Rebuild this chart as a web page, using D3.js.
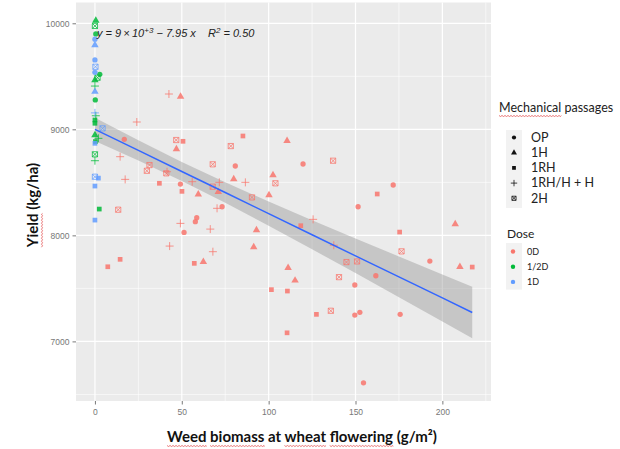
<!DOCTYPE html>
<html>
<head>
<meta charset="utf-8">
<script src="https://cdn.jsdelivr.net/npm/d3@7"></script>
<style>
  body { margin: 0; background: #fff; }
  svg { display: block; }
</style>
</head>
<body>
<div id="chart"></div>
<script>
// Levels
const passageLevels = ['OP', '1H', '1RH', '1RH/H + H', '2H'];
const doseLevels = ['0D', '1/2D', '1D'];

// Dose 0D
const d0Biomass = [16.9, 14.5, 17.4, 13.4, 7.4, 14.5, 42.6, 49.3, 24.1, 46.8, 50.7, 46.9, 67.8, 31.4, 29.9, 41.1, 41.5, 37.1, 49.2, 56,
  67.8, 50.1, 59.5, 70.3, 49.2, 58.6, 57.8, 66.4, 51.3, 43, 67.9, 57.2, 62.4, 85.2, 110.6, 78.2, 80.8, 119.8, 137.1, 79.9,
  86.6, 102.5, 103.9, 71.6, 71, 90.4, 100.2, 73.2, 125.6, 118.5, 93, 91.4, 137.5, 111.2, 115.2, 101.6, 110.8, 127.5, 135.8, 110.6,
  140.5, 171.7, 162.5, 151.5, 207.4, 175.4, 176.5, 192.8, 210.1, 217.2, 144.8, 150.9, 161.7, 149.6, 149.6, 152.5, 175.7, 154.6];
const d0Yield = [8906, 8742, 8528, 8242, 7704, 7774, 9333, 9308, 9069, 8899, 8887, 8814, 8670, 8663, 8609, 8585, 8600, 8491, 8484, 8506,
  8459, 8415, 8387, 8255, 8113, 8166, 8129, 8059, 8028, 7899, 7846, 7736, 7751, 8937, 8892, 8842, 8654, 8673, 8704, 8531,
  8500, 8569, 8491, 8500, 8410, 8358, 8380, 8270, 8151, 8091, 8050, 7890, 7907, 7694, 7575, 7488, 7475, 7255, 7289, 7081,
  7606, 8475, 8390, 8270, 8107, 8031, 7849, 7758, 7704, 7701, 7748, 7754, 7619, 7532, 7248, 7274, 7255, 6609];
const d0Passage = ['OP', '1RH/H + H', '1RH/H + H', '2H', '1RH', '1RH', '1RH/H + H', '1H', '1RH/H + H', '2H', '1RH', '1H', '2H', '2H', '2H', '2H', '1RH/H + H', '1RH', 'OP', '1RH/H + H',
  '2H', '1RH', '1H', '1RH/H + H', '1RH/H + H', 'OP', 'OP', '1RH/H + H', 'OP', '1RH/H + H', '1RH/H + H', '1RH', '1H', '1RH', '1H', '2H', 'OP', 'OP', '2H', '1H',
  '1RH/H + H', '1H', '2H', '1RH/H + H', '1H', '2H', '1H', 'OP', '1RH/H + H', '1RH', '1H', '1H', '1RH/H + H', '1H', '1H', '1RH', '1RH', '1RH', '2H', '1RH',
  '2H', 'OP', '1RH', 'OP', '1H', '1RH', '2H', 'OP', '1H', '1RH', '2H', '2H', 'OP', 'OP', 'OP', 'OP', 'OP', 'OP'];

// Dose 1/2D
const d12Biomass = [0.5, 0, 0.5, 2.8, 1.5, 0, 0, 0.2, 0.5, 0, 0, 0, 2, 0.3, 0, 0, 2.5];
const d12Yield = [10025, 9975, 9900, 9519, 9487, 9465, 9408, 9277, 9128, 9088, 9057, 8946, 8915, 8885, 8764, 8704, 8248];
const d12Passage = ['1H', '2H', 'OP', 'OP', '2H', '1H', '1RH/H + H', 'OP', '1RH/H + H', '1RH', '1RH', '1H', '1RH/H + H', '1RH', '2H', '1RH/H + H', '1RH'];

// Dose 1D
const d1Biomass = [0, 0, 0, 0.3, 0, 0, 0, 4.4, 0, 0, 2, 0, 0];
const d1Yield = [9850, 9795, 9654, 9590, 9538, 9355, 9155, 9009, 8868, 8553, 8540, 8465, 8144];
const d1Passage = ['OP', '1H', 'OP', '2H', 'OP', '1H', '1RH/H + H', '2H', '1RH', '2H', '1RH', '1RH', '1RH'];

// Linear fit and its confidence band
const bandBiomass = [0, 25, 50, 75, 100, 125, 150, 175, 200, 217.2];
const bandFit = [9000, 8801, 8602, 8404, 8205, 8006, 7807, 7609, 7410, 7273];
const bandLower = [8890, 8706, 8512, 8307, 8091, 7869, 7644, 7417, 7188, 7030];
const bandUpper = [9110, 8896, 8692, 8501, 8319, 8143, 7970, 7801, 7632, 7516];

const xTicks = [0, 50, 100, 150, 200];
const xMinor = [25, 75, 125, 175, 225];
const yTicks = [7000, 8000, 9000, 10000];
const yMinor = [6500, 7500, 8500, 9500];

const width = 620, height = 449;
const panel = { left: 76, right: 491, top: 2.5, bottom: 401 };

const svg = d3.select('#chart').append('svg')
  .attr('width', width)
  .attr('height', height);

const x = d3.scaleLinear().domain([-10.9, 228]).range([panel.left, panel.right]);
const y = d3.scaleLinear().domain([6438, 10196]).range([panel.bottom, panel.top]);

const doseColor = d3.scaleOrdinal().domain(doseLevels).range(['#F8766D', '#00BA38', '#619CFF']);

// Panel background and grid
svg.append('rect')
  .attr('x', panel.left).attr('y', panel.top)
  .attr('width', panel.right - panel.left).attr('height', panel.bottom - panel.top)
  .attr('fill', '#EBEBEB');

const grid = svg.append('g');
grid.selectAll('.xminor').data(xMinor).enter().append('line')
  .attr('x1', d => x(d)).attr('x2', d => x(d))
  .attr('y1', panel.top).attr('y2', panel.bottom)
  .attr('stroke', '#fff').attr('stroke-width', 0.6);
grid.selectAll('.yminor').data(yMinor).enter().append('line')
  .attr('y1', d => y(d)).attr('y2', d => y(d))
  .attr('x1', panel.left).attr('x2', panel.right)
  .attr('stroke', '#fff').attr('stroke-width', 0.6);
grid.selectAll('.xmajor').data(xTicks).enter().append('line')
  .attr('x1', d => x(d)).attr('x2', d => x(d))
  .attr('y1', panel.top).attr('y2', panel.bottom)
  .attr('stroke', '#fff').attr('stroke-width', 1.2);
grid.selectAll('.ymajor').data(yTicks).enter().append('line')
  .attr('y1', d => y(d)).attr('y2', d => y(d))
  .attr('x1', panel.left).attr('x2', panel.right)
  .attr('stroke', '#fff').attr('stroke-width', 1.2);

// Axes
const xAxis = svg.append('g')
  .attr('transform', `translate(0,${panel.bottom})`)
  .call(d3.axisBottom(x).tickValues(xTicks).tickSize(3.5).tickPadding(4));
const yAxis = svg.append('g')
  .attr('transform', `translate(${panel.left},0)`)
  .call(d3.axisLeft(y).tickValues(yTicks).tickSize(3.5).tickPadding(3).tickFormat(d3.format('d')));
[xAxis, yAxis].forEach(a => {
  a.select('.domain').remove();
  a.selectAll('line').attr('stroke', '#7a7a7a');
  a.selectAll('text').attr('fill', '#777').attr('font-size', 8.5)
    .attr('font-family', 'Liberation Sans, Arial, sans-serif');
});

// Confidence band + fit line
const band = bandBiomass.map((b, i) => ({ b, lo: bandLower[i], hi: bandUpper[i], fit: bandFit[i] }));
svg.append('path')
  .datum(band)
  .attr('d', d3.area().x(d => x(d.b)).y0(d => y(d.lo)).y1(d => y(d.hi)))
  .attr('fill', '#999').attr('fill-opacity', 0.45);

// Points
function symbolPath(shape) {
  if (shape === 'OP') return d3.symbol(d3.symbolCircle, 22)();
  if (shape === '1H') return d3.symbol(d3.symbolTriangle, 24)();
  if (shape === '1RH') return d3.symbol(d3.symbolSquare, 22)();
  if (shape === '1RH/H + H') return 'M-4,0H4M0,-4V4';
  return 'M-2.6,-2.6H2.6V2.6H-2.6Z M-2.6,-2.6L2.6,2.6M2.6,-2.6L-2.6,2.6';
}
function isStroked(shape) {
  return shape === '1RH/H + H' || shape === '2H';
}

const points = [];
d0Biomass.forEach((b, i) => points.push({ b, yv: d0Yield[i], p: d0Passage[i], dose: '0D' }));
d12Biomass.forEach((b, i) => points.push({ b, yv: d12Yield[i], p: d12Passage[i], dose: '1/2D' }));
d1Biomass.forEach((b, i) => points.push({ b, yv: d1Yield[i], p: d1Passage[i], dose: '1D' }));

svg.append('g').selectAll('path').data(points).enter().append('path')
  .attr('transform', d => `translate(${x(d.b)},${y(d.yv)})`)
  .attr('d', d => symbolPath(d.p))
  .attr('fill', d => isStroked(d.p) ? 'none' : doseColor(d.dose))
  .attr('stroke', d => isStroked(d.p) ? doseColor(d.dose) : 'none')
  .attr('stroke-width', 0.9)
  .attr('opacity', 0.85);

svg.append('path')
  .datum(band)
  .attr('d', d3.line().x(d => x(d.b)).y(d => y(d.fit)))
  .attr('fill', 'none').attr('stroke', '#3366FF').attr('stroke-width', 1.5);

// Equation label
const eq = svg.append('text')
  .attr('x', 97).attr('y', 37)
  .attr('font-family', 'Liberation Sans, Arial, sans-serif')
  .attr('font-size', 11).attr('font-style', 'italic').attr('fill', '#222');
eq.append('tspan').text('y = 9\u2009\u00d7\u200910');
eq.append('tspan').attr('dy', -4.5).attr('font-size', 8).text('+3');
eq.append('tspan').attr('dy', 4.5).text('\u00a0\u2212 7.95\u00a0x\u00a0\u00a0\u00a0\u00a0R');
eq.append('tspan').attr('dy', -4.5).attr('font-size', 8).text('2');
eq.append('tspan').attr('dy', 4.5).text('\u00a0= 0.50');

// Red spell-check squiggle under selected words of a text element
function squiggle(textNode, parent, words) {
  const str = textNode.textContent;
  words.forEach(w => {
    const i0 = str.indexOf(w);
    if (i0 < 0) return;
    const a = textNode.getExtentOfChar(i0);
    const b = textNode.getExtentOfChar(i0 + w.length - 1);
    const x0 = a.x, x1 = b.x + b.width;
    const yb = a.y + a.height + 0.5;
    let d = `M${x0},${yb}`;
    for (let xx = x0, k = 0; xx < x1; xx += 1.5, k++) {
      d += `L${Math.min(xx + 1.5, x1)},${yb + (k % 2 ? 0 : 1)}`;
    }
    parent.append('path').attr('d', d)
      .attr('fill', 'none').attr('stroke', '#e04040').attr('stroke-width', 0.7);
  });
}

// Axis titles
const titleFont = 'Lato, Carlito, Calibri, sans-serif';
const xt = svg.append('text')
  .attr('x', 302).attr('y', 442)
  .attr('text-anchor', 'middle')
  .attr('font-family', titleFont).attr('font-weight', 'bold')
  .attr('font-size', 15).attr('fill', '#111')
  .text('Weed biomass at wheat flowering (g/m\u00b2)');
squiggle(xt.node(), svg, ['Weed', 'biomass', 'wheat', 'flowering']);

const yg = svg.append('g').attr('transform', 'translate(38,205) rotate(-90)');
const yt = yg.append('text')
  .attr('x', 0).attr('y', 0)
  .attr('text-anchor', 'middle')
  .attr('font-family', titleFont).attr('font-weight', 'bold')
  .attr('font-size', 15).attr('fill', '#111')
  .text('Yield (kg/ha)');
squiggle(yt.node(), yg, ['Yield']);

// Legends
const legendFont = 'Lato, Carlito, Calibri, sans-serif';
const lt = svg.append('text')
  .attr('x', 499).attr('y', 112)
  .attr('font-family', legendFont).attr('font-size', 12.5).attr('fill', '#222')
  .text('Mechanical passages');
squiggle(lt.node(), svg, ['Mechanical']);

const mechTop = 130, mechStep = 15.2;
svg.append('rect')
  .attr('x', 506).attr('y', mechTop)
  .attr('width', 16).attr('height', mechStep * passageLevels.length + 2)
  .attr('fill', '#F2F2F2');
const mech = svg.append('g').selectAll('g').data(passageLevels).enter().append('g')
  .attr('transform', (d, i) => `translate(514,${mechTop + 7.5 + i * mechStep})`);
mech.append('path')
  .attr('d', d => symbolPath(d))
  .attr('transform', 'scale(0.8)')
  .attr('fill', d => isStroked(d) ? 'none' : '#111')
  .attr('stroke', d => isStroked(d) ? '#111' : 'none')
  .attr('stroke-width', 1);
mech.append('text')
  .attr('x', 17).attr('dy', '0.35em')
  .attr('font-family', legendFont).attr('font-size', 12.5).attr('fill', '#222')
  .text(d => d);

svg.append('text')
  .attr('x', 507).attr('y', 238)
  .attr('font-family', legendFont).attr('font-size', 12).attr('fill', '#222')
  .text('Dose');

const doseTop = 243, doseStep = 15.2;
svg.append('rect')
  .attr('x', 506).attr('y', doseTop)
  .attr('width', 16).attr('height', doseStep * doseLevels.length + 1)
  .attr('fill', '#F2F2F2');
const dose = svg.append('g').selectAll('g').data(doseLevels).enter().append('g')
  .attr('transform', (d, i) => `translate(513,${doseTop + 8.5 + i * doseStep})`);
dose.append('circle').attr('r', 2.2).attr('fill', d => doseColor(d));
dose.append('text')
  .attr('x', 14).attr('dy', '0.35em')
  .attr('font-family', legendFont).attr('font-size', 9).attr('fill', '#222')
  .text(d => d);
</script>
</body>
</html>
